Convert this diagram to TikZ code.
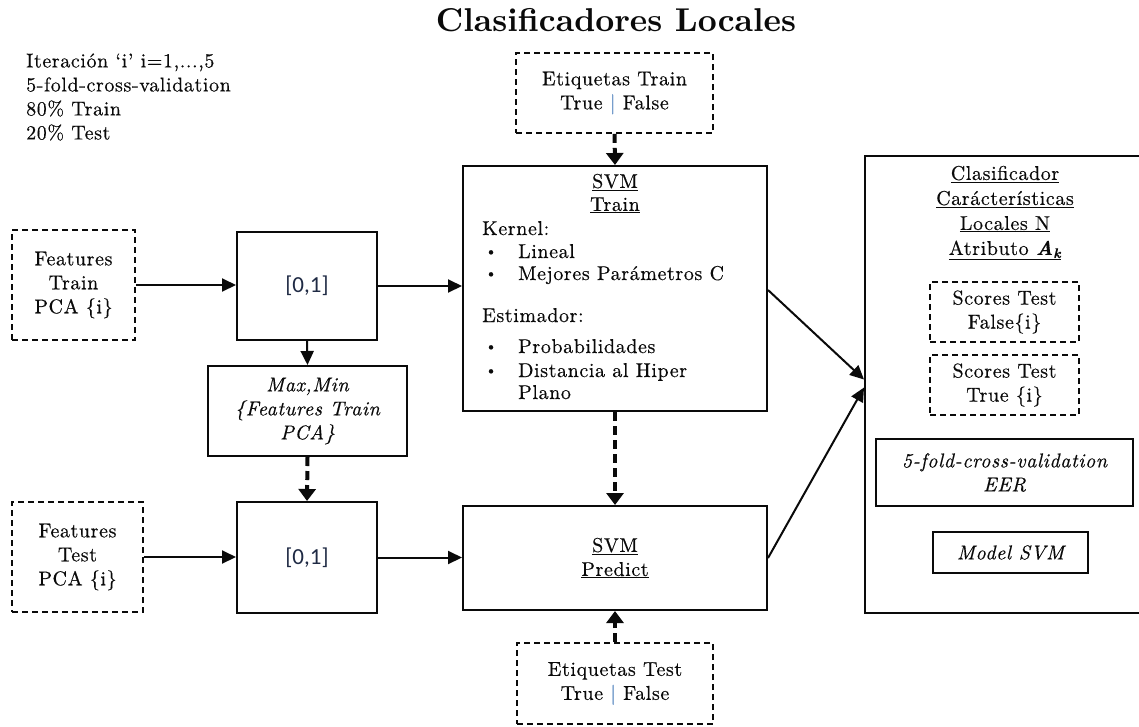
\documentclass[tikz,border=0pt]{standalone}
\usepackage{fontspec}
\setmainfont{lmroman10-regular.otf}[
  BoldFont=lmroman10-bold.otf,
  ItalicFont=lmroman10-italic.otf,
  BoldItalicFont=lmroman10-bolditalic.otf,
  LetterSpace=3,
  FakeBold=0.4]
\newfontfamily\titlefont{lmroman10-bold.otf}
\newfontfamily\calib{Carlito}
\usetikzlibrary{arrows.meta}

\definecolor{ink}{HTML}{0A0A0A}
\definecolor{barblue}{HTML}{4F81BD}
\definecolor{navy}{HTML}{1F2A44}

\newcommand{\tfbar}{{\color{barblue}|}}

\tikzset{
  x=1pt, y=-1pt,
  every node/.style={font=\fontsize{20}{24}\selectfont, text=ink},
  box/.style={draw=ink, line width=2pt, inner sep=0pt, align=center},
  dbox/.style={draw=ink, line width=1.6pt, dash pattern=on 6pt off 4pt,
               inner sep=0pt, align=center},
  flow/.style={draw=ink, line width=2pt, -{Triangle[length=14pt,width=13pt]}},
  dflow/.style={draw=ink, line width=4pt, dash pattern=on 9pt off 5pt,
                -{Triangle[length=12pt,width=17pt]}},
  line/.style={anchor=west, text height=14pt, text depth=4pt, inner sep=0pt},
  unit/.style={font=\calib\fontsize{23}{26}\selectfont, text=navy},
  dot/.style={anchor=west, inner sep=0pt, font=\fontsize{15}{18}\selectfont},
}

\begin{document}
\begin{tikzpicture}
\useasboundingbox (0,0) rectangle (1139,726);

% title and run description
\node[font=\titlefont\fontsize{33}{36}\selectfont] (title) at (616,20) {Clasificadores Locales};
\node[align=left, anchor=west, inner sep=0pt] (info) at (26,97) {Iteración ‘i’ i=1,...,5\\5-fold-cross-validation\\80\% Train\\20\% Test};

% feature inputs and normalisation
\node[dbox, minimum width=123, minimum height=110] (ftrain) at (73.5,285) {Features\\Train\\PCA \{i\}};
\node[box, unit, minimum width=140, minimum height=108] (norm1) at (307,286) {[0,1]};
\node[box, minimum width=199, minimum height=90] (maxmin) at (307.5,411) {\itshape Max,Min\\\itshape\{Features Train\\\itshape PCA\}};
\node[box, unit, minimum width=140, minimum height=111] (norm2) at (307,557.5) {[0,1]};
\node[dbox, minimum width=131, minimum height=110] (ftest) at (77.5,557) {Features\\Test\\PCA \{i\}};

% labels
\node[dbox, minimum width=197, minimum height=80] (etr) at (614.5,93) {Etiquetas Train\\True \tfbar{} False};
\node[dbox, minimum width=196, minimum height=81] (ete) at (615,683.5) {Etiquetas Test\\True \tfbar{} False};

% SVM training
\node[box, minimum width=304, minimum height=245] (svmtrain) at (615,288.5) {};
\node[align=center, inner sep=0pt, font=\fontsize{20}{23}\selectfont] (trhead) at (615,193.5) {\underline{SVM}\\\underline{Train}};
\node[line] (kern) at (482,230) {Kernel:};
\node[dot] (b1) at (485,253) {\textbullet};
\node[line] (k1) at (518,253) {Lineal};
\node[dot] (b2) at (485,275) {\textbullet};
\node[line] (k2) at (518,275) {Mejores Parámetros C};
\node[line] (est) at (482,317) {Estimador:};
\node[dot] (b3) at (485,348) {\textbullet};
\node[line] (e1) at (518,348) {Probabilidades};
\node[dot] (b4) at (485,372) {\textbullet};
\node[line] (e2) at (518,372) {Distancia al Hiper};
\node[line] (e3) at (518,394) {Plano};

% SVM prediction
\node[box, minimum width=304, minimum height=104] (svmpred) at (615,558) {\underline{SVM}\\\underline{Predict}};

% local classifier summary (open on the right)
\node[box, minimum width=300, minimum height=457, anchor=west] (big) at (864,384.5) {};
\node[align=center, inner sep=0pt, font=\fontsize{20}{25}\selectfont] (bighead) at (1005,213) {\underline{Clasificador}\\\underline{Carácterísticas}\\\underline{Locales N}\\\underline{Atributo {\bfseries\itshape A}\textsubscript{\bfseries\itshape k}}};
\node[dbox, minimum width=149, minimum height=60] (sfalse) at (1004.5,312) {Scores Test\\False\{i\}};
\node[dbox, minimum width=149, minimum height=60] (strue) at (1004.5,385) {Scores Test\\True \{i\}};
\node[box, line width=1.8pt, minimum width=257, minimum height=67] (eer) at (1004.5,472.5) {\itshape 5-fold-cross-validation\\\itshape EER};
\node[box, line width=1.8pt, minimum width=155, minimum height=41] (model) at (1010.5,552.5) {\itshape Model SVM};

% connectors
\draw[flow] (ftrain.east) -- (ftrain.east -| norm1.west);
\draw[flow] (norm1.east) -- (norm1.east -| svmtrain.west);
\draw[flow] (norm1.south) -- (maxmin.north);
\draw[dflow] (maxmin.south) -- (norm2.north);
\draw[flow] (ftest.east) -- (ftest.east -| norm2.west);
\draw[flow] (norm2.east) -- (norm2.east -| svmpred.west);
\draw[dflow] (etr.south) -- (svmtrain.north);
\draw[dflow] (svmtrain.south) -- (svmpred.north);
\draw[dflow] (ete.north) -- (svmpred.south);
\draw[flow] ([yshift=-1.5pt]svmtrain.east) -- ([yshift=5pt]big.west);
\draw[flow] (svmpred.east) -- ([yshift=-3pt]big.west);
\end{tikzpicture}
\end{document}
